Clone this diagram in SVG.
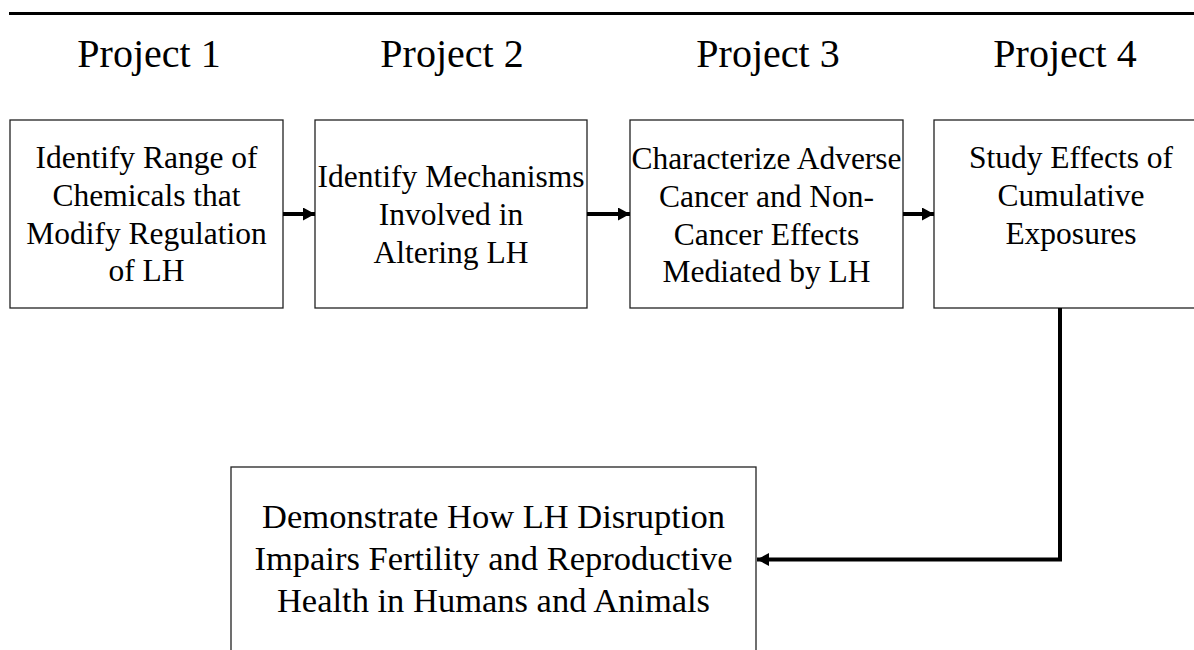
<svg xmlns="http://www.w3.org/2000/svg" width="1194" height="650" viewBox="0 0 1194 650">
  <style>
    .title { font-family: "Liberation Serif", "Times New Roman", serif; font-size: 40px; fill: #000; text-anchor: middle; }
    .label { font-family: "Liberation Serif", "Times New Roman", serif; font-size: 31.5px; fill: #000; text-anchor: middle; }
    .label-lg { font-family: "Liberation Serif", "Times New Roman", serif; font-size: 34.5px; fill: #000; text-anchor: middle; }
    .box { fill: #fff; stroke: #222; stroke-width: 1.3; }
    .conn { fill: none; stroke: #000; stroke-width: 4; }
  </style>
  <defs>
    <marker id="head" viewBox="0 0 12 13" refX="12" refY="6.5" markerWidth="12" markerHeight="13" markerUnits="userSpaceOnUse" orient="auto">
      <path d="M0,0 L12,6.5 L0,13 Z" fill="#000"/>
    </marker>
  </defs>

  <rect width="1194" height="650" fill="#fff"/>

  <!-- header rule -->
  <line x1="9" y1="13.5" x2="1194" y2="13.5" stroke="#000" stroke-width="3"/>

  <!-- column titles -->
  <g id="titles">
    <text class="title" x="149" y="67">Project 1</text>
    <text class="title" x="452" y="67">Project 2</text>
    <text class="title" x="768" y="67">Project 3</text>
    <text class="title" x="1065" y="67">Project 4</text>
  </g>

  <g id="p1">
    <rect class="box" x="10" y="120" width="273" height="188"/>
    <text class="label" x="146.5" y="168">Identify Range of</text>
    <text class="label" x="146.5" y="206">Chemicals that</text>
    <text class="label" x="146.5" y="244">Modify Regulation</text>
    <text class="label" x="146.5" y="281">of LH</text>
  </g>

  <g id="p2">
    <rect class="box" x="315" y="120" width="272" height="188"/>
    <text class="label" x="451" y="187">Identify Mechanisms</text>
    <text class="label" x="451" y="225">Involved in</text>
    <text class="label" x="451" y="263">Altering LH</text>
  </g>

  <g id="p3">
    <rect class="box" x="630" y="120" width="273" height="188"/>
    <text class="label" x="766.5" y="169">Characterize Adverse</text>
    <text class="label" x="766.5" y="207">Cancer and Non-</text>
    <text class="label" x="766.5" y="245">Cancer Effects</text>
    <text class="label" x="766.5" y="282">Mediated by LH</text>
  </g>

  <g id="p4">
    <rect class="box" x="934" y="120" width="276" height="188"/>
    <text class="label" x="1071" y="168">Study Effects of</text>
    <text class="label" x="1071" y="206">Cumulative</text>
    <text class="label" x="1071" y="244">Exposures</text>
  </g>

  <g id="outcome">
    <rect class="box" x="231" y="467" width="525" height="200"/>
    <text class="label-lg" x="493.5" y="528">Demonstrate How LH Disruption</text>
    <text class="label-lg" x="493.5" y="570">Impairs Fertility and Reproductive</text>
    <text class="label-lg" x="493.5" y="612">Health in Humans and Animals</text>
  </g>

  <g id="connectors">
    <line class="conn" x1="283" y1="214" x2="315" y2="214" marker-end="url(#head)"/>
    <line class="conn" x1="587" y1="214" x2="630" y2="214" marker-end="url(#head)"/>
    <line class="conn" x1="903" y1="214" x2="934" y2="214" marker-end="url(#head)"/>
    <path class="conn" d="M1060,308 V559.5 H757" marker-end="url(#head)"/>
  </g>
</svg>
